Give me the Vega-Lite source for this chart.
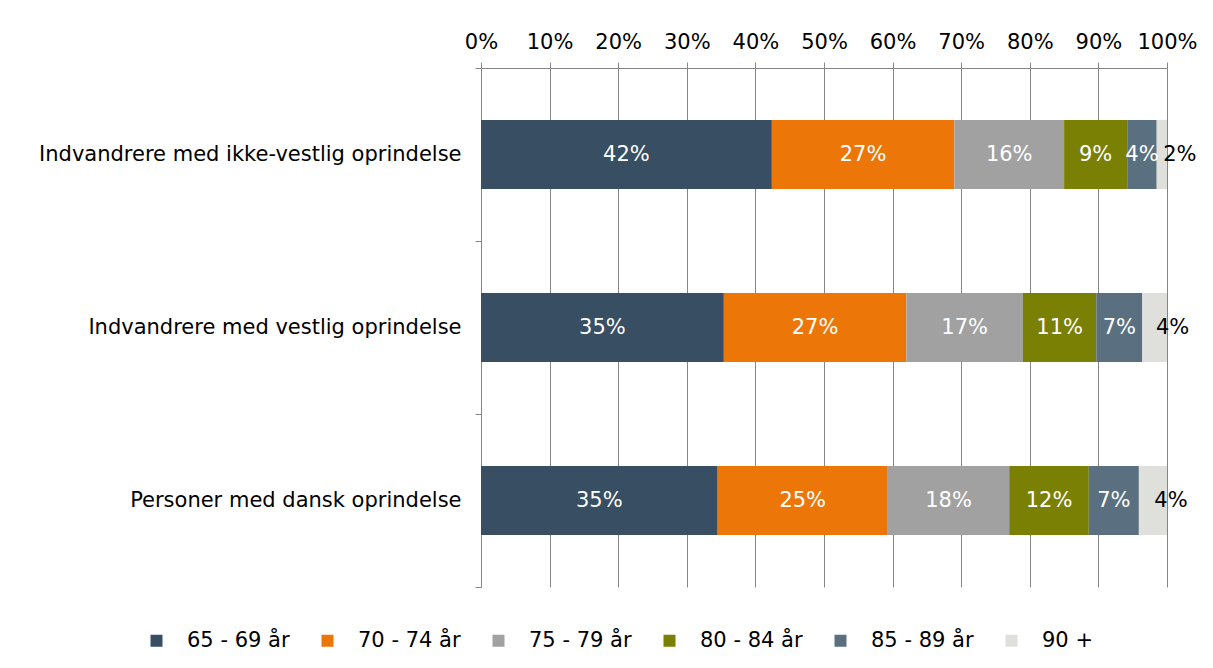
{
  "$schema": "https://vega.github.io/schema/vega-lite/v6.json",
  "width": 686,
  "height": 519,
  "autosize": {"type": "none"},
  "padding": {"left": 481, "top": 68, "right": 46, "bottom": 81},
  "background": "white",
  "config": {
    "font": "DejaVu Sans",
    "view": {"stroke": null}
  },
  "data": {
    "values": [
      {"group": "Indvandrere med ikke-vestlig oprindelse", "age": "65 - 69 år", "order": 1, "value": 0.424},
      {"group": "Indvandrere med ikke-vestlig oprindelse", "age": "70 - 74 år", "order": 2, "value": 0.266},
      {"group": "Indvandrere med ikke-vestlig oprindelse", "age": "75 - 79 år", "order": 3, "value": 0.160},
      {"group": "Indvandrere med ikke-vestlig oprindelse", "age": "80 - 84 år", "order": 4, "value": 0.092},
      {"group": "Indvandrere med ikke-vestlig oprindelse", "age": "85 - 89 år", "order": 5, "value": 0.043},
      {"group": "Indvandrere med ikke-vestlig oprindelse", "age": "90 +", "order": 6, "value": 0.015},
      {"group": "Indvandrere med vestlig oprindelse", "age": "65 - 69 år", "order": 1, "value": 0.354},
      {"group": "Indvandrere med vestlig oprindelse", "age": "70 - 74 år", "order": 2, "value": 0.266},
      {"group": "Indvandrere med vestlig oprindelse", "age": "75 - 79 år", "order": 3, "value": 0.170},
      {"group": "Indvandrere med vestlig oprindelse", "age": "80 - 84 år", "order": 4, "value": 0.107},
      {"group": "Indvandrere med vestlig oprindelse", "age": "85 - 89 år", "order": 5, "value": 0.067},
      {"group": "Indvandrere med vestlig oprindelse", "age": "90 +", "order": 6, "value": 0.036},
      {"group": "Personer med dansk oprindelse", "age": "65 - 69 år", "order": 1, "value": 0.345},
      {"group": "Personer med dansk oprindelse", "age": "70 - 74 år", "order": 2, "value": 0.248},
      {"group": "Personer med dansk oprindelse", "age": "75 - 79 år", "order": 3, "value": 0.177},
      {"group": "Personer med dansk oprindelse", "age": "80 - 84 år", "order": 4, "value": 0.116},
      {"group": "Personer med dansk oprindelse", "age": "85 - 89 år", "order": 5, "value": 0.073},
      {"group": "Personer med dansk oprindelse", "age": "90 +", "order": 6, "value": 0.041}
    ]
  },
  "encoding": {
    "y": {
      "field": "group",
      "type": "nominal",
      "sort": null,
      "scale": {"paddingInner": 0, "paddingOuter": 0},
      "axis": {
        "title": null,
        "tickBand": "extent",
        "labelFontSize": 21,
        "labelLimit": 0,
        "labelColor": "#000000",
        "labelPadding": 14,
        "tickSize": 6,
        "tickColor": "#868686",
        "domainColor": "#868686",
        "grid": false
      }
    },
    "order": {"field": "order", "type": "quantitative"}
  },
  "layer": [
    {
      "mark": {"type": "bar", "height": {"band": 0.4}},
      "encoding": {
        "x": {
          "field": "value",
          "type": "quantitative",
          "stack": "zero",
          "scale": {"domain": [0, 1]},
          "axis": {
            "orient": "top",
            "title": null,
            "format": ".0%",
            "values": [0, 0.1, 0.2, 0.3, 0.4, 0.5, 0.6, 0.7, 0.8, 0.9, 1],
            "labelOverlap": false,
            "labelFlush": false,
            "grid": true,
            "gridColor": "#868686",
            "gridOpacity": 1,
            "tickColor": "#868686",
            "domainColor": "#868686",
            "tickSize": 6,
            "labelFontSize": 21,
            "labelColor": "#000000",
            "labelPadding": 10
          }
        },
        "color": {
          "field": "age",
          "type": "nominal",
          "scale": {
            "domain": ["65 - 69 år", "70 - 74 år", "75 - 79 år", "80 - 84 år", "85 - 89 år", "90 +"],
            "range": ["#374e63", "#ec7708", "#a1a1a1", "#7a8003", "#5a7080", "#dfe0db"]
          },
          "legend": {
            "title": null,
            "orient": "none",
            "direction": "horizontal",
            "legendX": -335,
            "legendY": 562,
            "symbolType": "square",
            "symbolSize": 144,
            "symbolStrokeWidth": 0,
            "symbolOpacity": 1,
            "labelFontSize": 21,
            "labelColor": "#000000",
            "labelOffset": 20,
            "columnPadding": 27,
            "columns": 6,
            "gridAlign": "all"
          }
        }
      }
    },
    {
      "mark": {"type": "text", "color": "white", "fontSize": 21, "baseline": "middle"},
      "encoding": {
        "x": {"field": "value", "type": "quantitative", "stack": "zero", "bandPosition": 0.5},
        "text": {
          "condition": {"test": "datum.age == '90 +'", "value": ""},
          "field": "value",
          "type": "quantitative",
          "format": ".0%"
        }
      }
    },
    {
      "mark": {"type": "text", "color": "black", "fontSize": 21, "baseline": "middle", "dx": 18},
      "encoding": {
        "x": {"field": "value", "type": "quantitative", "stack": "zero", "bandPosition": 0.5},
        "text": {
          "condition": {"test": "datum.age == '90 +'", "field": "value", "type": "quantitative", "format": ".0%"},
          "value": ""
        }
      }
    }
  ]
}
